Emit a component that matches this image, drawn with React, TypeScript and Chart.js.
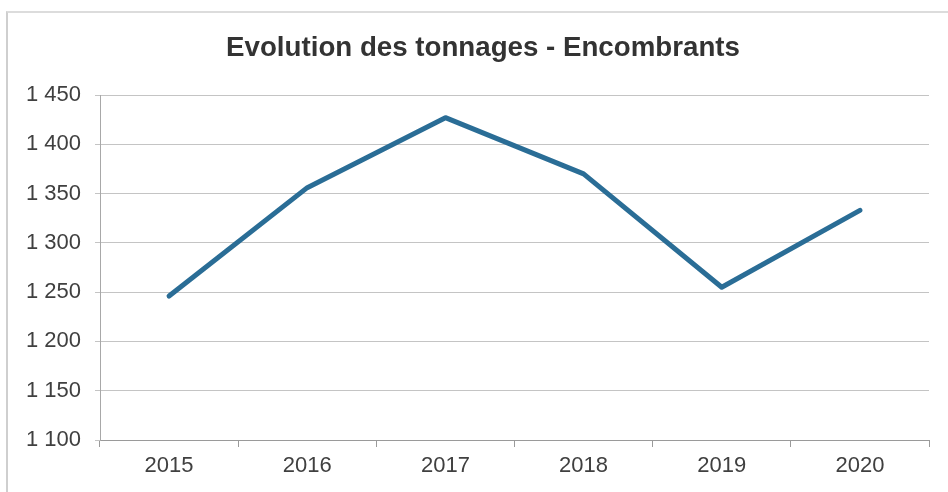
import React, { useEffect, useRef } from "react";
import { Chart, registerables } from "chart.js";

Chart.register(...registerables);

const TITLE = "Evolution des tonnages - Encombrants";
const YEARS = ["2015", "2016", "2017", "2018", "2019", "2020"];
const TONNAGES = [1246, 1356, 1427, 1370, 1255, 1333];
const Y_MIN = 1100;
const Y_MAX = 1450;
const Y_STEP = 50;

const FONT = '"Liberation Sans", Arial, sans-serif';

function formatThousands(v: number): string {
  const s = Math.round(v).toString();
  return s.replace(/\B(?=(\d{3})+(?!\d))/g, " ");
}

const titlePlugin = {
  id: "manualTitle",
  afterDraw(chart: any) {
    const ctx = chart.ctx;
    ctx.save();
    ctx.font = `bold 27.7px ${FONT}`;
    ctx.fillStyle = "#333333";
    ctx.textAlign = "center";
    ctx.textBaseline = "middle";
    ctx.fillText(TITLE, 483, 48);
    ctx.restore();
  },
};

export default function App() {
  const ref = useRef<HTMLCanvasElement | null>(null);

  useEffect(() => {
    if (!ref.current) return;
    const chart = new Chart(ref.current, {
      type: "line",
      data: {
        labels: YEARS,
        datasets: [
          {
            data: TONNAGES,
            borderColor: "#2a6d96",
            borderWidth: 5,
            pointRadius: 0,
            pointHoverRadius: 0,
            tension: 0,
            borderJoinStyle: "round",
            borderCapStyle: "round",
            fill: false,
          },
        ],
      },
      options: {
        animation: false,
        responsive: false,
        devicePixelRatio: 1,
        layout: { padding: { left: 0, right: 19, top: 95, bottom: 0 } },
        plugins: {
          legend: { display: false },
          title: { display: false },
          tooltip: { enabled: false },
        },
        scales: {
          x: {
            type: "category",
            offset: true,
            grid: {
              display: true,
              offset: true,
              drawOnChartArea: false,
              drawTicks: true,
              tickLength: 7,
              color: "#9a9a9a",
            },
            border: { display: true, color: "#9a9a9a", width: 1 },
            ticks: {
              color: "#404040",
              font: { family: FONT, size: 22 },
              padding: 6,
              maxRotation: 0,
            },
            afterFit(scale: any) {
              scale.height = 52;
            },
          },
          y: {
            min: Y_MIN,
            max: Y_MAX,
            grid: {
              color: "#c4c4c4",
              lineWidth: 1,
              drawTicks: true,
              tickLength: 5,
            },
            border: { display: true, color: "#a8a8a8", width: 1 },
            ticks: {
              stepSize: Y_STEP,
              color: "#404040",
              font: { family: FONT, size: 22 },
              padding: 14,
              callback: (v: any) => formatThousands(Number(v)),
            },
            afterFit(scale: any) {
              scale.width = 100;
            },
          },
        },
      },
      plugins: [titlePlugin],
    });
    return () => chart.destroy();
  }, []);

  return (
    <div
      style={{
        position: "absolute",
        left: 0,
        top: 0,
        width: 948,
        height: 492,
        background: "#ffffff",
        overflow: "hidden",
      }}
    >
      <div
        style={{
          position: "absolute",
          left: 6,
          top: 11,
          width: 960,
          height: 500,
          borderLeft: "2px solid #cfcfcf",
          borderTop: "2px solid #dcdcdc",
        }}
      />
      <canvas
        ref={ref}
        width={948}
        height={492}
        style={{ position: "absolute", left: 0, top: 0, width: 948, height: 492 }}
      />
    </div>
  );
}
